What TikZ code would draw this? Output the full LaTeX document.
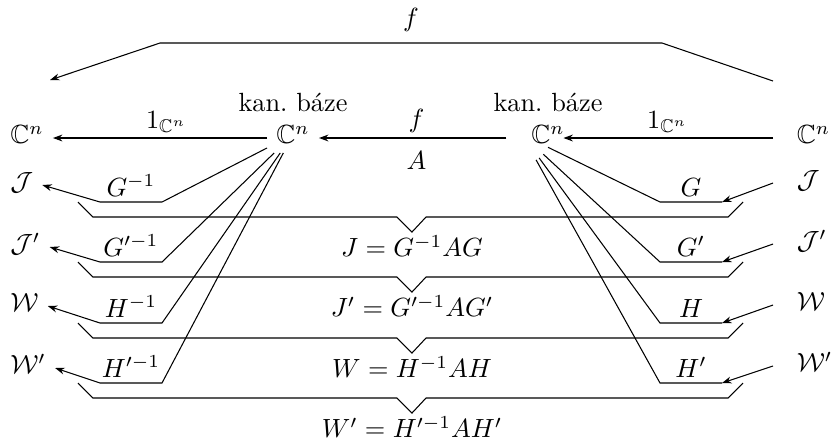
\documentclass[tikz,border=0pt]{standalone}
\usepackage{amssymb}
\usetikzlibrary{arrows.meta,positioning}

\begin{document}
\begin{tikzpicture}[x=0.38pt,y=-0.38pt,
    lobj/.style={anchor=mid west},
    robj/.style={anchor=mid west,outer sep=5.7pt},
    mobj/.style={anchor=mid},
    arr/.style={-{Stealth[length=3.6pt,width=2.6pt]}},
    lab/.style={above,inner sep=2pt},
    res/.style={below,inner sep=1pt}]
  \useasboundingbox (0,0) rectangle (831,441);
  % left column
  \node[lobj] (L0) at (1,138) {$\mathbb{C}^n$};
  \node[lobj] (L1) at (1,185) {$\mathcal{J}$};
  \node[lobj] (L2) at (1,247) {$\mathcal{J}'$};
  \node[lobj] (L3) at (1,306) {$\mathcal{W}$};
  \node[lobj] (L4) at (1,368) {$\mathcal{W}'$};
  % right column
  \node[robj] (R0) at (773,138) {$\mathbb{C}^n$};
  \node[robj] (R1) at (773,183) {$\mathcal{J}$};
  \node[robj] (R2) at (773,244) {$\mathcal{J}'$};
  \node[robj] (R3) at (773,305) {$\mathcal{W}$};
  \node[robj] (R4) at (773,366) {$\mathcal{W}'$};
  % canonical bases
  \node[mobj] (ML) at (293,138) {$\mathbb{C}^n$};
  \node[mobj] (MR) at (548,138) {$\mathbb{C}^n$};
  \node[above=-2pt of ML] (kL) {kan.\ báze};
  \node[above=-2pt of MR] (kR) {kan.\ báze};
  % top row
  \draw[arr] (ML.mid west) -- node[lab,pos=0.47] {$1_{\mathbb{C}^n}$} (L0.mid east);
  \draw[arr,shorten <=6pt] (MR.mid west) -- node[lab,pos=0.52] {$f$}
    node[below,inner sep=5pt,pos=0.52] {$A$} (ML.mid east);
  \draw[arr,shorten >=-4pt] (R0.mid west) -- node[lab,pos=0.53] {$1_{\mathbb{C}^n}$} (MR.mid east);
  \coordinate (tR) at (773,81);
  \coordinate (tL) at (50,80);
  \draw[arr] (tR) -- (662,43) -- node[above,inner sep=4pt] {$f$} (160,43) -- (tL);
  % bases J, J', W, W'
  \foreach \i/\y/\yr/\gl/\gr/\eq in {%
      1/202/183/G^{-1}/G/J = G^{-1}AG,
      2/262/244/G'^{-1}/G'/J' = G'^{-1}AG',
      3/323/305/H^{-1}/H/W = H^{-1}AH,
      4/383/366/H'^{-1}/H'/W' = H'^{-1}AH'} {
    \draw[arr] (ML) -- (162,\y) -- node[lab] {$\gl$} (100,\y) -- (L\i.mid east);
    \coordinate (rA\i) at (722,\y);
    \draw[arr] (R\i.mid west) -- (rA\i);
    \draw[shorten <=11pt] (MR.west) -- (660,\y) -- node[lab] {$\gr$} (rA\i);
    \draw (78,\y) -- ++(15,15) -- ++(304,0) -- ++(15,15) coordinate (v\i)
      -- ++(14,-15) -- ++(302,0) -- ++(15,-15);
    \node[res] (e\i) at (v\i) {$\eq$};
  }
\end{tikzpicture}
\end{document}
